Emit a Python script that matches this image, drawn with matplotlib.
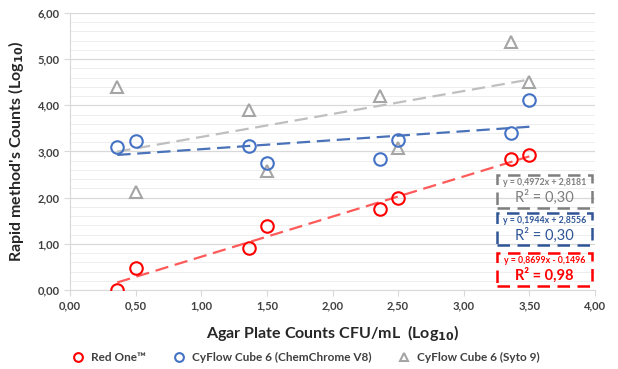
import numpy as np
import matplotlib.pyplot as plt
from matplotlib.ticker import FuncFormatter, MultipleLocator
from matplotlib.patches import Rectangle

plt.rcParams['font.family'] = ['Lato', 'DejaVu Sans']

agar = [0.36, 0.50, 1.36, 1.50, 2.36, 2.50, 3.36, 3.50]
red_one = [0.00, 0.48, 0.91, 1.39, 1.76, 2.00, 2.84, 2.92]
chemchrome = [3.10, 3.22, 3.12, 2.74, 2.84, 3.24, 3.40, 4.12]
syto9 = [4.40, 2.13, 3.90, 2.58, 4.20, 3.07, 5.37, 4.50]

series_names = ['Red One™', 'CyFlow Cube 6 (ChemChrome V8)', 'CyFlow Cube 6 (Syto 9)']
slopes = [0.8699, 0.1944, 0.4972]
intercepts = [-0.1496, 2.8556, 2.8181]
r2 = ['0,98', '0,30', '0,30']
eq_texts = ['y = 0,8699x - 0,1496', 'y = 0,1944x + 2,8556', 'y = 0,4972x + 2,8181']

colors = ['#ff0000', '#4472c4', '#a5a5a5']
line_colors = ['#ff5a5a', '#4a72b8', '#bfbfbf']
box_colors = ['#ff0000', '#2f5597', '#7f7f7f']
markers = ['o', 'o', '^']

fig = plt.figure(figsize=(6.18, 3.69), dpi=100)
ax = fig.add_axes([0.1133, 0.2141, 0.8495, 0.7507])

xs = np.array([min(agar), max(agar)])
order = [2, 1, 0]
for i in order:
    ys = [red_one, chemchrome, syto9][i]
    ax.plot(xs, slopes[i] * xs + intercepts[i], color=line_colors[i], linestyle=(0, (6, 3)),
            linewidth=1.6, zorder=2)
    ax.plot(agar, ys, linestyle='none', marker=markers[i], markersize=9 if i < 2 else 8.5,
            markerfacecolor='none', markeredgecolor=colors[i], markeredgewidth=1.5,
            label=series_names[i], zorder=3)

ax.set_xlim(0, 4)
ax.set_ylim(0, 6)
ax.xaxis.set_major_locator(MultipleLocator(0.5))
ax.yaxis.set_major_locator(MultipleLocator(1))
ax.yaxis.set_minor_locator(MultipleLocator(0.2))
fmt = FuncFormatter(lambda v, p: ('%.2f' % v).replace('.', ','))
ax.xaxis.set_major_formatter(fmt)
ax.yaxis.set_major_formatter(fmt)
ax.grid(True, which='major', axis='y', color='#d9d9d9', linewidth=0.9)
ax.grid(True, which='minor', axis='y', color='#eeeeee', linewidth=0.7)
ax.set_axisbelow(True)
for s in ['top', 'right']:
    ax.spines[s].set_visible(False)
for s in ['left', 'bottom']:
    ax.spines[s].set_color('#d9d9d9')
ax.tick_params(axis='both', which='major', labelsize=8, colors='#d9d9d9', labelcolor='#404040',
               length=4, width=0.8)
ax.tick_params(axis='y', which='minor', length=0)
for lab in ax.get_xticklabels() + ax.get_yticklabels():
    lab.set_fontweight('bold')

ax.set_xlabel('Agar Plate Counts CFU/mL  (Log$_{\\mathbf{10}}$)', fontsize=11.5,
              fontweight='bold', color='#262626', labelpad=8)
ax.set_ylabel("Rapid method's Counts (Log$_{\\mathbf{10}}$)", fontsize=11.5,
              fontweight='bold', color='#262626', labelpad=8)

# equation boxes (red, blue, gray from bottom)
boxes = [(0.013, 0.122), (0.162, 0.116), (0.296, 0.119)]
for i in range(3):
    y0, h = boxes[i]
    ax.add_patch(Rectangle((0.813, y0), 0.182, h, transform=ax.transAxes, fill=False,
                           edgecolor=box_colors[i], linewidth=1.8, linestyle=(0, (5, 3)),
                           clip_on=False, zorder=4))
    ax.text(0.904, y0 + h * 0.76, eq_texts[i], transform=ax.transAxes, ha='center', va='center',
            fontsize=6.3, fontweight='bold', color=box_colors[i], zorder=5)
    ax.text(0.904, y0 + h * 0.32, 'R² = ' + r2[i], transform=ax.transAxes, ha='center',
            va='center', fontsize=10.5, fontweight='bold' if i == 0 else 'normal',
            color=box_colors[i], zorder=5)

handles, labels = ax.get_legend_handles_labels()
handles = handles[::-1]
labels = labels[::-1]
leg = fig.legend(handles, labels, loc='center', bbox_to_anchor=(0.49, 0.03), ncol=3,
                 frameon=False, fontsize=8.5, handletextpad=0.1, columnspacing=1.8,
                 markerscale=0.7)
for t in leg.get_texts():
    t.set_fontweight('bold')
    t.set_color('#404040')

plt.savefig('out.png', dpi=100)
